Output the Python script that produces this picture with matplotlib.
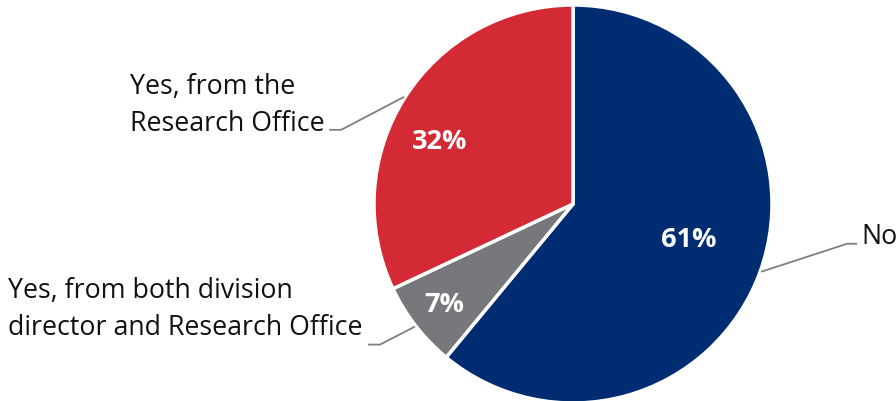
import numpy as np
import matplotlib
matplotlib.use("Agg")
import matplotlib.pyplot as plt

labels = ["No", "Yes, from both division\ndirector and Research Office", "Yes, from the\nResearch Office"]
values = [61, 7, 32]
colors = ["#002d72", "#76787b", "#d42a35"]

# label placement per slice: radial fraction, angle nudge (deg) for the percent text
pct_radius = [0.61, 0.82, 0.74]
pct_nudge = [3.0, 0.0, 7.0]
# leader line: elbow offset from slice edge, horizontal tail length (pixels)
elbow = [(86, 28), (-35, -18), (-63, -33)]
tail = [10, -12, -12]
# vertical shift of each category label relative to its leader tail
text_dy = [-6, 4, -7]

W, H = 896, 402
fig = plt.figure(figsize=(W / 100, H / 100), dpi=100)
ax = fig.add_axes([0, 0, 1, 1])

cx, cy, R = 573, 197, 199
wedges, _ = ax.pie(values, colors=colors, startangle=90, counterclock=False,
                   center=(cx, cy), radius=R, frame=True,
                   wedgeprops=dict(edgecolor="white", linewidth=2.5))
ax.set_xlim(0, W)
ax.set_ylim(0, H)
ax.set_aspect("equal")
ax.axis("off")

font = "Open Sans"
for w, v, lab, pr, nud, (ex, ey), t, dy in zip(wedges, values, labels, pct_radius,
                                               pct_nudge, elbow, tail, text_dy):
    mid = np.deg2rad((w.theta1 + w.theta2) / 2)
    a = mid + np.deg2rad(nud)
    ax.text(cx + pr * R * np.cos(a), cy + pr * R * np.sin(a), f"{v}%",
            ha="center", va="center", color="white", fontsize=19.5,
            fontweight="bold", family=font)
    x0 = cx + R * 1.005 * np.cos(mid)
    y0 = cy + R * 1.005 * np.sin(mid)
    x1, y1 = x0 + ex, y0 + ey
    x2 = x1 + t
    ax.plot([x0, x1, x2], [y0, y1, y1], color="#7f7f7f", lw=1.3,
            solid_capstyle="butt", clip_on=False)
    if t > 0:
        ax.text(x2 + 4, y1 + dy, lab, ha="left", va="bottom", fontsize=19.3,
                family=font, color="#111111", linespacing=1.4)
    else:
        ax.text(x2 - 5, y1 + dy, lab, ha="right", va="bottom", fontsize=19.3,
                family=font, color="#111111", linespacing=1.4,
                multialignment="left")

fig.savefig("out.png", dpi=100)
